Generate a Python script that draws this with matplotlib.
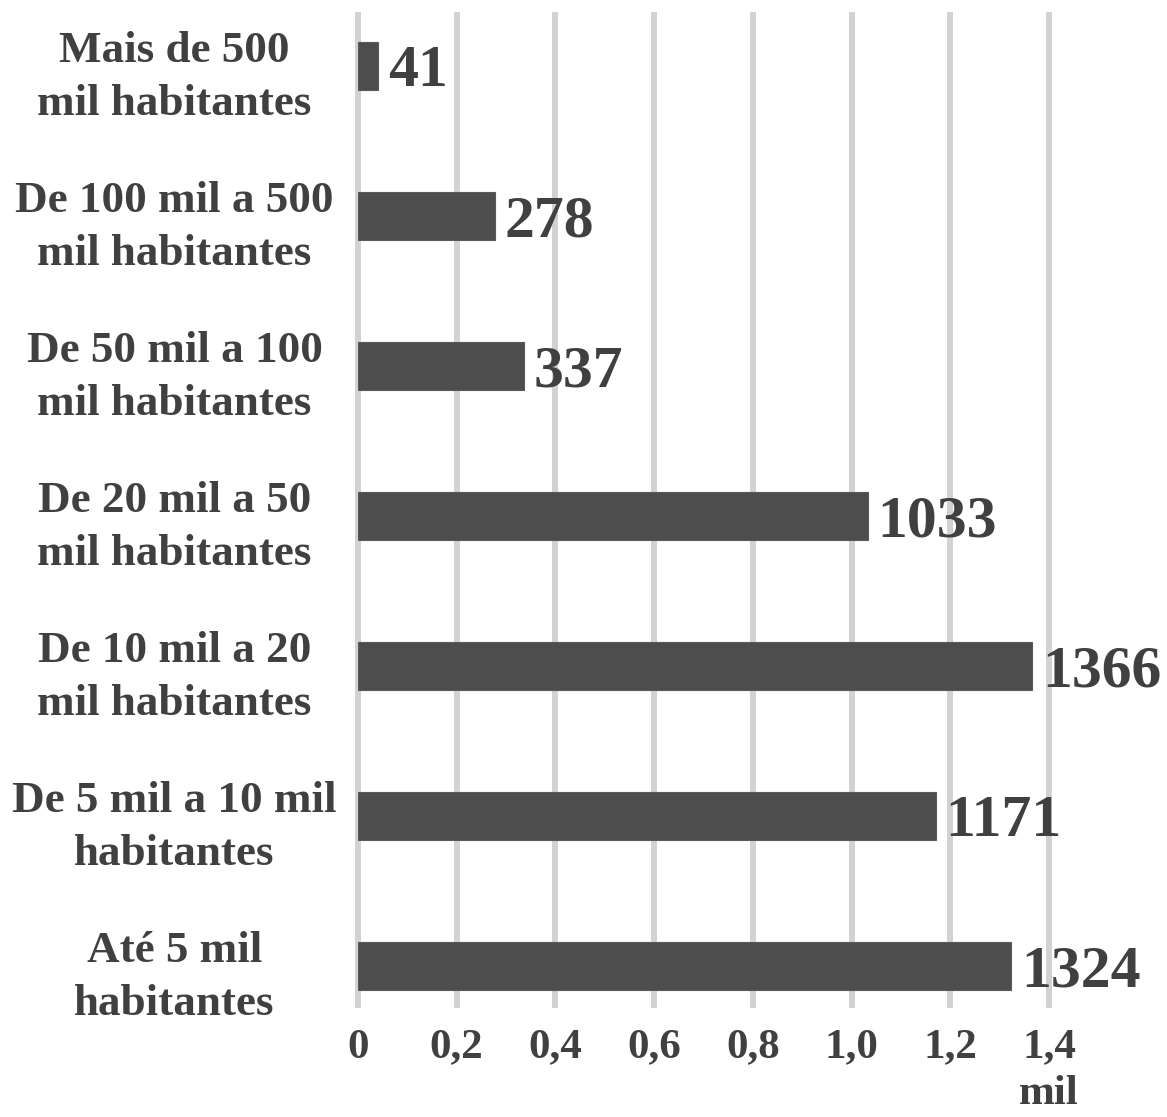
import matplotlib
matplotlib.use("Agg")
import matplotlib.pyplot as plt

categories = [
    "Mais de 500\nmil habitantes",
    "De 100 mil a 500\nmil habitantes",
    "De 50 mil a 100\nmil habitantes",
    "De 20 mil a 50\nmil habitantes",
    "De 10 mil a 20\nmil habitantes",
    "De 5 mil a 10 mil\nhabitantes",
    "Até 5 mil\nhabitantes",
]
values = [41, 278, 337, 1033, 1366, 1171, 1324]
xticks = [0, 0.2, 0.4, 0.6, 0.8, 1.0, 1.2, 1.4]
xtick_labels = ["0", "0,2", "0,4", "0,6", "0,8", "1,0", "1,2", "1,4"]
unit_label = "mil"

plt.rcParams['font.family'] = ['Liberation Serif', 'DejaVu Serif']
plt.rcParams['font.weight'] = 'bold'

text_color = '#404040'
bar_color = '#4d4d4d'
grid_color = '#d2d2d2'

fig = plt.figure(figsize=(11.67, 11.17), dpi=100)
ax = fig.add_axes([358/1167, (1117-1005)/1117, 691/1167, 990/1117])

ypos = list(range(len(categories)))
scaled = [v / 1000 for v in values]
ax.barh(ypos, scaled, height=0.32, color=bar_color, edgecolor='#5a5a5a', linewidth=0.8, zorder=3)

for y, v, s in zip(ypos, values, scaled):
    ax.annotate(str(v), xy=(s, y), xytext=(7, 0), textcoords='offset points',
                ha='left', va='center_baseline', fontsize=43, fontweight='bold',
                color=text_color, annotation_clip=False)

ax.set_xlim(0, 1.4)
ax.set_ylim(6.26, -0.34)
ax.set_xticks(xticks)
ax.set_xticklabels(xtick_labels, fontsize=31, fontweight='bold', color=text_color)
ax.set_yticks(ypos)
ax.set_yticklabels(categories, fontsize=32.5, fontweight='bold', color=text_color,
                   ha='center', linespacing=1.45)
ax.tick_params(axis='y', length=0, pad=132)
ax.tick_params(axis='x', length=0, pad=17)
ax.grid(axis='x', color=grid_color, linewidth=4.3, zorder=0)
ax.grid(axis='y', visible=False)
ax.set_axisbelow(True)
for gl in ax.get_xgridlines():
    gl.set_clip_on(False)
for sp in ax.spines.values():
    sp.set_visible(False)

ax.text(1.4, -0.1, unit_label, transform=ax.get_xaxis_transform(), ha='center', va='baseline',
        fontsize=31, fontweight='bold', color=text_color)

fig.savefig("out.png", dpi=100)
